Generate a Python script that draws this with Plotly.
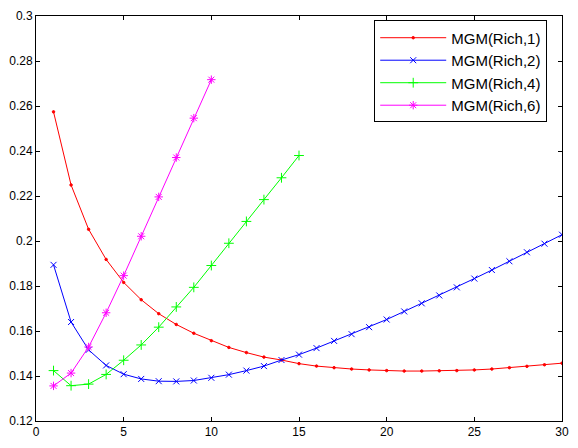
import plotly.graph_objects as go

x1 = list(range(1, 31))
rich1 = [0.2574, 0.2249, 0.2052, 0.1918, 0.1816, 0.1739, 0.1677, 0.1629, 0.1590, 0.1557,
         0.1527, 0.1504, 0.1484, 0.1471, 0.1455, 0.1444, 0.1437, 0.1431, 0.1427, 0.1424,
         0.1422, 0.1422, 0.1423, 0.1424, 0.1427, 0.1431, 0.1437, 0.1443, 0.1450, 0.1457]
x2 = list(range(1, 31))
rich2 = [0.1894, 0.1640, 0.1516, 0.1447, 0.1408, 0.1387, 0.1377, 0.1376, 0.1380, 0.1392,
         0.1406, 0.1424, 0.1444, 0.1471, 0.1495, 0.1524, 0.1556, 0.1586, 0.1617, 0.1651,
         0.1687, 0.1723, 0.1758, 0.1794, 0.1833, 0.1871, 0.1910, 0.1950, 0.1988, 0.2028]
x4 = list(range(1, 16))
rich4 = [0.1424, 0.1357, 0.1364, 0.1407, 0.1470, 0.1538, 0.1617, 0.1707, 0.1794, 0.1891,
         0.1990, 0.2087, 0.2184, 0.2281, 0.2380]
x6 = list(range(1, 11))
rich6 = [0.1356, 0.1413, 0.1529, 0.1681, 0.1846, 0.2021, 0.2196, 0.2371, 0.2546, 0.2717]

names = ["MGM(Rich,1)", "MGM(Rich,2)", "MGM(Rich,4)", "MGM(Rich,6)"]
xticks = [0, 5, 10, 15, 20, 25, 30]
yticks = [0.12, 0.14, 0.16, 0.18, 0.2, 0.22, 0.24, 0.26, 0.28, 0.3]
ytick_text = ["0.12", "0.14", "0.16", "0.18", "0.2", "0.22", "0.24", "0.26", "0.28", "0.3"]

series = [
    (x1, rich1, "#ff0000", "circle", 2.5),
    (x2, rich2, "#0000ff", "x-thin", 6),
    (x4, rich4, "#00ff00", "cross-thin", 7),
    (x6, rich6, "#ff00ff", "asterisk", 7),
]

fig = go.Figure()
for (xs, ys, col, sym, sz), nm in zip(series, names):
    fig.add_trace(go.Scatter(
        x=xs, y=ys, mode="lines+markers", name=nm,
        line=dict(color=col, width=1),
        marker=dict(symbol=sym, size=sz, color=col, line=dict(color=col, width=1)),
    ))

axis_common = dict(
    showline=True, linecolor="black", linewidth=1, mirror="ticks",
    ticks="inside", ticklen=4, tickcolor="black", tickwidth=1,
    showgrid=False, zeroline=False, ticklabeloverflow="allow",
    tickfont=dict(family="Liberation Sans, Arial, sans-serif", size=12, color="black"),
)

fig.update_xaxes(range=[0, 30], tickvals=xticks, **axis_common)
fig.update_yaxes(range=[0.12, 0.3], tickvals=yticks, ticktext=ytick_text, **axis_common)

fig.update_layout(
    width=578, height=448,
    margin=dict(l=36, r=9, t=11, b=16),
    paper_bgcolor="white", plot_bgcolor="white",
    showlegend=True,
    legend=dict(
        x=0.643, y=0.989, xanchor="left", yanchor="top",
        bordercolor="black", borderwidth=1, bgcolor="white",
        font=dict(family="Liberation Sans, Arial, sans-serif", size=15, color="black"),
        itemwidth=66, tracegroupgap=0,
    ),
)

fig.write_html("out.html", config={"displayModeBar": False},
               post_script="document.body.style.margin='0px';")
